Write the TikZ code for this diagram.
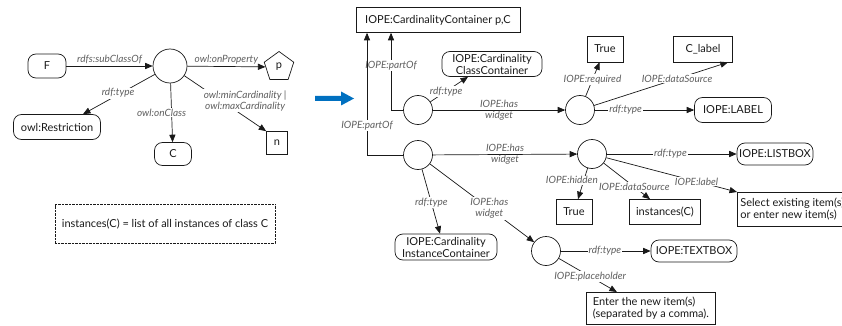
\documentclass[tikz,border=0pt]{standalone}
\usepackage{fontspec}
\setmainfont{Lato}
\usetikzlibrary{arrows}
\usetikzlibrary{shapes.geometric}
\definecolor{ink}{RGB}{25,25,25}
\definecolor{lblgray}{RGB}{95,95,95}
\definecolor{arrowblue}{RGB}{0,112,192}

\tikzset{
  rnd/.style={draw=ink, line width=0.7pt, rounded corners=8pt, align=center, inner sep=1pt, font=\fontsize{11}{12}\selectfont, text=ink},
  sq/.style={draw=ink, line width=0.7pt, rectangle, align=center, inner sep=1pt, font=\fontsize{11}{12}\selectfont, text=ink},
  blank/.style={draw=ink, line width=0.7pt, circle, inner sep=0pt},
  lbl/.style={font=\fontsize{10}{11}\selectfont\itshape, text=lblgray, fill=white, inner sep=1pt, align=center},
  conn/.style={draw=ink, line width=0.7pt, -triangle 45}
}

\begin{document}
\begin{tikzpicture}[x=1pt, y=-1pt]

\useasboundingbox (0, 0) rectangle (842, 326);

\node[rnd, minimum width=38, minimum height=24] (F) at (47, 66) {F};
\node[blank, minimum size=34] (restr) at (170, 66) {};
\node[draw=ink, line width=0.7pt, regular polygon, regular polygon sides=5, minimum size=31, inner sep=0pt, font=\fontsize{11}{12}\selectfont, text=ink] (p) at (279, 67) {p};
\node[rnd, minimum width=87, minimum height=25] (owlR) at (57, 127) {owl:Restriction};
\node[rnd, minimum width=37, minimum height=23] (C) at (173, 154) {C};
\node[sq, minimum width=21, minimum height=23] (n) at (277, 143) {n};

\draw[conn] (F) -- node[lbl, above=1pt, fill=none] {rdfs:subClassOf} (restr);
\draw[conn] (restr) -- node[lbl, above=1pt, fill=none] {owl:onProperty} (p);
\draw[conn] (restr) -- node[lbl, pos=0.47, xshift=-3] {rdf:type} ([xshift=26]owlR.north);
\draw[conn] (restr) -- node[lbl, pos=0.5, xshift=-10] {owl:onClass} (C);
\draw[conn] (restr) -- node[lbl, pos=0.45, xshift=24] {owl:minCardinality |\\owl:maxCardinality} (n.north west);

\node[draw=ink, densely dotted, minimum width=220, minimum height=39, font=\fontsize{11}{12}\selectfont, text=ink] (note) at (165, 224) {instances(C) = list of all instances of class C};

\fill[arrowblue] (315, 96) -- (341, 96) -- (341, 91.5) -- (354, 98.5) -- (341, 105.5) -- (341, 101) -- (315, 101) -- cycle;

\node[sq, minimum width=164, minimum height=25] (cc) at (438, 20) {IOPE:CardinalityContainer p,C};
\node[rnd, minimum width=100, minimum height=25] (ccc) at (492, 64) {IOPE:Cardinality\\ClassContainer};
\node[blank, minimum size=29] (w1) at (418, 110) {};
\node[blank, minimum size=29] (w2) at (418, 155) {};
\node[blank, minimum size=29] (w3) at (580, 110) {};
\node[blank, minimum size=29] (w4) at (592, 154) {};
\node[blank, minimum size=29] (w5) at (546, 251) {};

\node[sq, minimum width=36, minimum height=26] (req) at (605, 49) {True};
\node[sq, minimum width=59, minimum height=26] (clabel) at (703, 49) {C\_label};
\node[rnd, minimum width=77, minimum height=25] (lbox) at (733, 110) {IOPE:LABEL};
\node[rnd, minimum width=76, minimum height=22] (listbox) at (775, 154) {IOPE:LISTBOX};
\node[sq, minimum width=36, minimum height=25] (hid) at (574, 212) {True};
\node[sq, minimum width=71, minimum height=25] (inst) at (665, 212) {instances(C)};
\node[sq, anchor=north west, align=left, minimum height=34, inner sep=3pt] (sel) at (737, 192) {Select existing item(s)\\or enter new item(s)};
\node[rnd, minimum width=102, minimum height=26] (cic) at (446, 247) {IOPE:Cardinality\\InstanceContainer};
\node[rnd, minimum width=86, minimum height=22] (tbox) at (694, 251) {IOPE:TEXTBOX};
\node[sq, anchor=north west, align=left, minimum width=129, minimum height=32, inner sep=4pt] (ph) at (586, 292) {Enter the new item(s)\\(separated by a comma).};

\draw[conn] (w1.west) -| node[lbl, pos=0.79] {IOPE:partOf} ([xshift=-47]cc.south);
\draw[conn] (w2.west) -| node[lbl, pos=0.62] {IOPE:partOf} ([xshift=-71]cc.south);
\draw[conn] (w1) -- node[lbl, pos=0.42] {rdf:type} ([xshift=-24]ccc.south);
\draw[conn] (w1) -- node[lbl, fill=none] {IOPE:has\\widget} (w3);
\draw[conn] (w2) -- node[lbl, fill=none] {IOPE:has\\widget} (w4);
\draw[conn] (w2) -- node[lbl, pos=0.52] {rdf:type} ([xshift=-6]cic.north);
\draw[conn] (w2) -- node[lbl, pos=0.57] {IOPE:has\\widget} (w5);

\draw[conn] (w3) -- node[lbl, pos=0.49] {IOPE:required} (req);
\draw[conn] (w3) -- node[lbl, pos=0.62] {IOPE:dataSource} ([xshift=-5]clabel.south east);
\draw[conn] (w3) -- node[lbl, pos=0.31] {rdf:type} (lbox);

\draw[conn] (w4) -- node[lbl, pos=0.49] {rdf:type} (listbox);
\draw[conn] (w4) -- node[lbl, pos=0.39, xshift=-12] {IOPE:hidden} (hid);
\draw[conn] (w4) -- node[lbl, pos=0.66] {IOPE:dataSource} ([xshift=-15]inst.north);
\draw[conn] (w4) -- node[lbl, pos=0.69] {IOPE:label} (sel.north west);

\draw[conn] (w5) -- node[lbl, pos=0.49] {rdf:type} (tbox);
\draw[conn] (w5) -- node[lbl, pos=0.54] {IOPE:placeholder} ([xshift=-34]ph.north);

\end{tikzpicture}
\end{document}
